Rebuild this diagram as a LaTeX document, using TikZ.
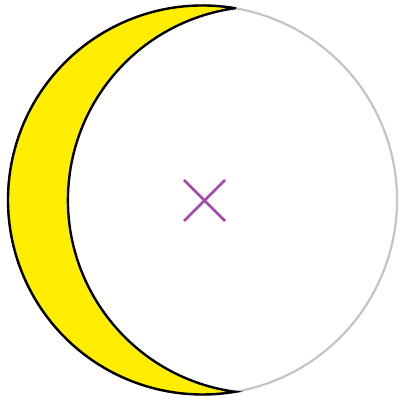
\documentclass[tikz,border=0pt]{standalone}
\usetikzlibrary{calc}
\definecolor{moonyellow}{RGB}{255,238,0}
\definecolor{ringgray}{RGB}{196,196,196}
\definecolor{crosspurple}{RGB}{162,74,172}
\begin{document}
\begin{tikzpicture}[x=1pt,y=1pt,
  ring/.style={draw=ringgray,line width=2.2pt},
  crescent/.style={fill=moonyellow,draw=black,line width=2.4pt,line join=miter,miter limit=20},
  crossline/.style={draw=crosspurple,line width=2.6pt}]
\useasboundingbox (0,0) rectangle (402,402);
\coordinate (c) at (202.5,202);
\coordinate (x) at (204.5,201.5);
\draw[ring] (c) circle[radius=194.5];
\path[crescent] ($(c)+(80.4:194.5)$) arc[start angle=80.4,end angle=279.6,radius=194.5]
  arc[start angle=262.1,end angle=97.9,radius=193.6] -- cycle;
\draw[crossline] ($(x)+(-20.5,20.5)$) -- ($(x)+(20.5,-20.5)$);
\draw[crossline] ($(x)+(-20.5,-20.5)$) -- ($(x)+(20.5,20.5)$);
\end{tikzpicture}
\end{document}
